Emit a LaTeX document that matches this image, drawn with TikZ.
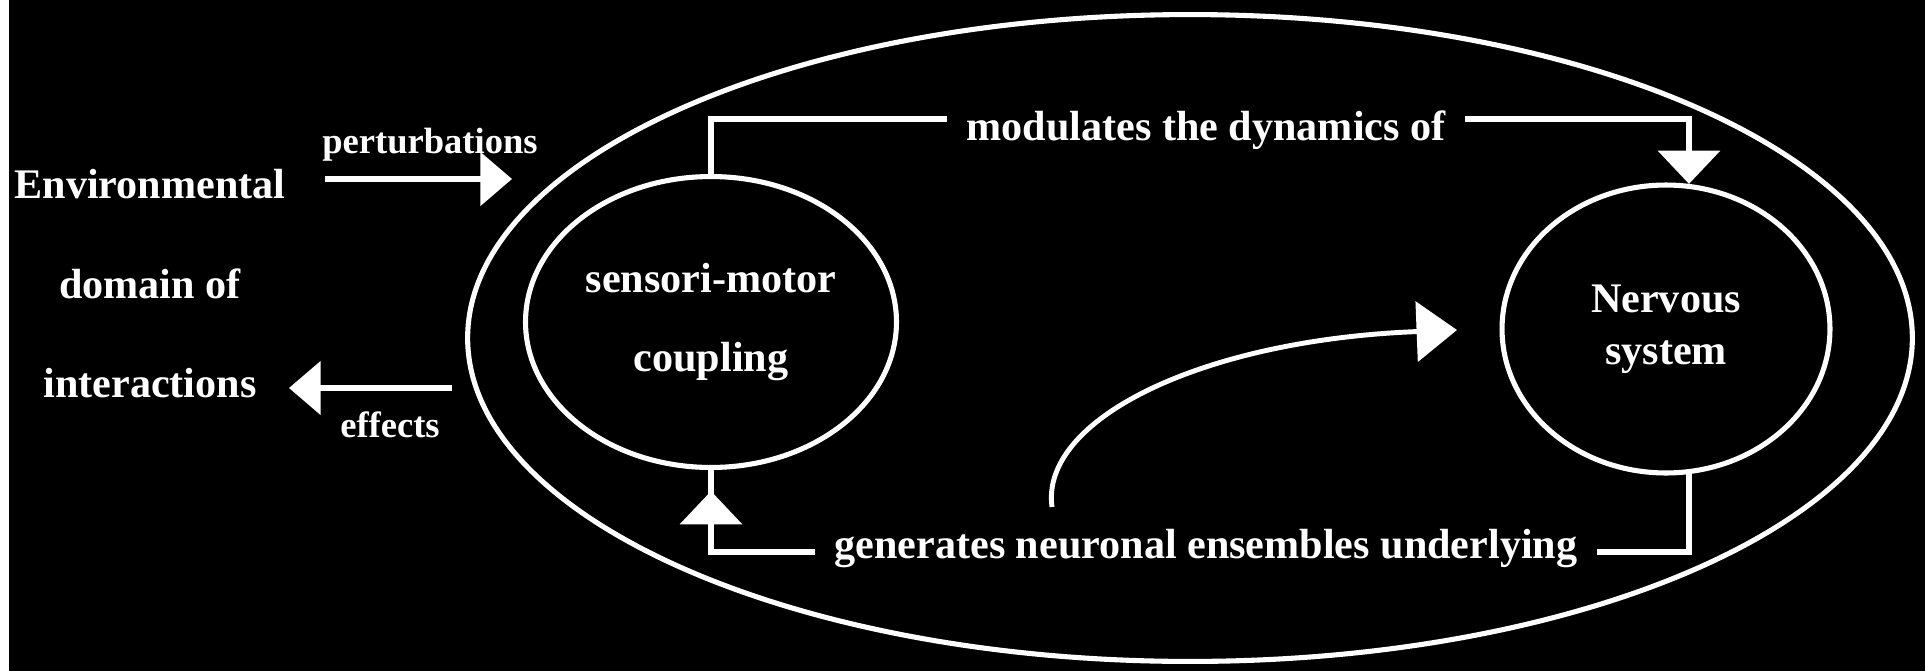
\documentclass[tikz,border=0pt]{standalone}
\usepackage{fontspec}
\setmainfont{Liberation Serif}
\usetikzlibrary{shapes.geometric,arrows.meta}

\begin{document}
\begin{tikzpicture}[
  x=0.02cm, y=-0.02cm,
  ring/.style={ellipse, draw=white, line width=2.9pt, text=white, align=center},
  lbl/.style={text=white, inner sep=0pt, font=\bfseries\fontsize{24}{28}\selectfont},
  small/.style={text=white, inner sep=0pt, font=\bfseries\fontsize{20.8}{24}\selectfont},
  link/.style={white, line width=3.6pt},
  bigtip/.tip={Triangle[width=35pt,length=19pt]},
  sidetip/.tip={Triangle[width=30pt,length=18pt]}
]
% Background
\useasboundingbox (0,0) rectangle (1925,670);
\fill[black] (-10,-10) rectangle (1935,680);
\fill[white] (-10,-10) rectangle (9,680);

% Organism with its two parts
\node[ring, minimum width=28.9cm, minimum height=12.94cm] (org) at (1190,338) {};
\node[ring, minimum width=6.5cm, minimum height=5.82cm,
      font=\bfseries\fontsize{24}{45}\selectfont] (smc) at (711,322) {sensori-motor\\coupling};
\node[ring, minimum width=6.56cm, minimum height=5.76cm,
      font=\bfseries\fontsize{24}{29.6}\selectfont] (ns) at (1666,329) {Nervous\\system};

% Environment
\node[lbl, align=center, font=\bfseries\fontsize{24}{56.6}\selectfont] (env) at (150,284)
  {Environmental\\domain of\\interactions};

% Loop labels
\node[lbl, inner xsep=11pt] (mod) at (1206,130.5) {modulates the dynamics of};
\node[lbl, inner xsep=11pt] (gen) at (1206,548.5) {generates neuronal ensembles underlying};

% Top loop
\draw[link] (smc.north) |- ([yshift=6.5pt]mod.west);
\draw[link, -bigtip] ([yshift=6.5pt]mod.east) -| (ns.81);

% Bottom loop
\draw[link] (ns.-81) |- ([yshift=-2pt]gen.east);
\draw[link] ([yshift=-2pt]gen.west) -| (smc.south);
\draw[link, -bigtip] ([yshift=-2pt]gen.west) -| ([yshift=-12pt]smc.south);

% Perturbations and effects
\coordinate (pin) at (325,179);
\coordinate (pout) at (512,179);
\draw[link, line width=3.4pt, -sidetip] (pin) -- (pout);
\node[small] (pert) at (430,144.5) {perturbations};

\coordinate (ein) at (452,388);
\coordinate (eout) at (289,388);
\draw[link, line width=3.4pt, -sidetip] (ein) -- (eout);
\node[small] (eff) at (390,424.5) {effects};

% Ensembles reaching the nervous system
\coordinate (cs) at (1052,507);
\coordinate (ce) at (1457,330);
\draw[link, line width=2.8pt, -{Triangle[width=34pt,length=23pt]}]
  (cs) .. controls (1040,420) and (1200,340) .. (ce);
\end{tikzpicture}
\end{document}
